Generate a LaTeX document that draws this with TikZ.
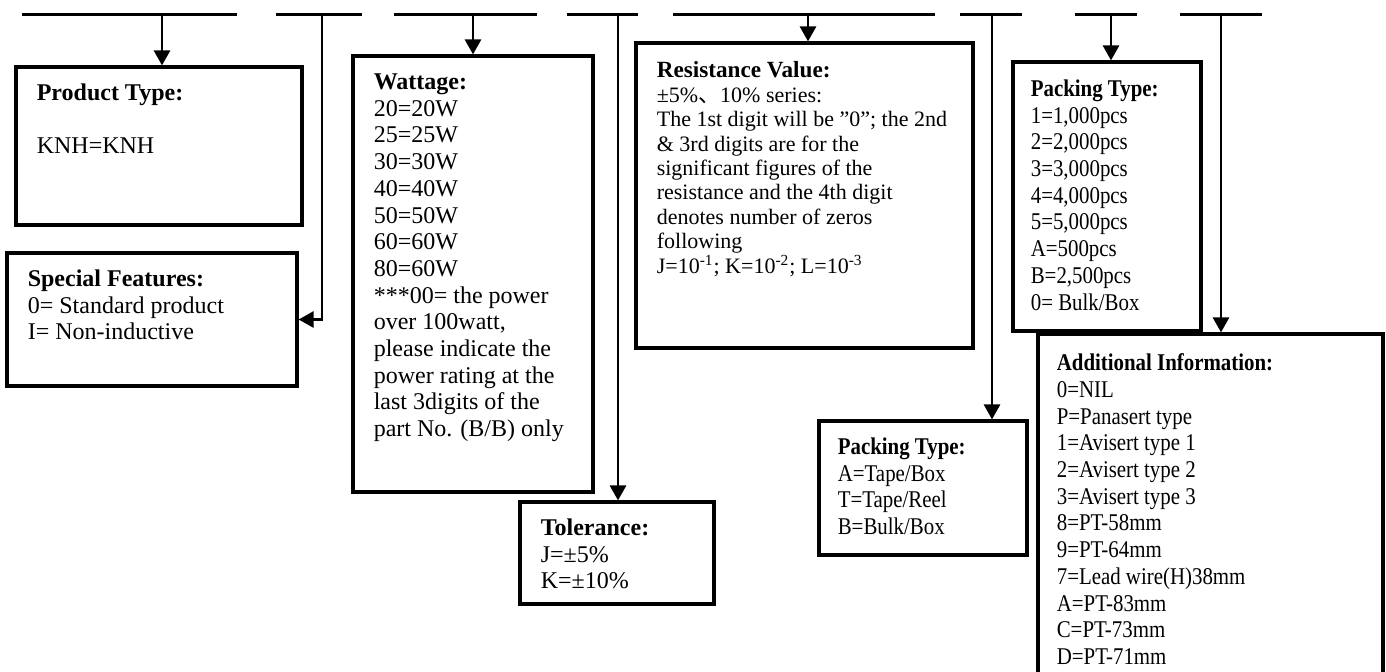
\documentclass[tikz,border=0pt]{standalone}
\usepackage{fontspec}
\setmainfont{Liberation Serif}
\newfontfamily\narrowfont[FakeStretch=0.87]{Liberation Serif}
\newfontfamily\cjk{Noto Sans CJK SC}
\usetikzlibrary{arrows.meta,fit}
\tikzset{
  box/.style={draw,line width=1.6pt,inner sep=0pt,fit={#1}},
  txt/.style={anchor=north west,inner sep=0pt,align=left,
    font=\fontsize{12}{13.35}\selectfont},
  tighttxt/.style={txt,font=\fontsize{11}{12.2}\selectfont},
  narrowtxt/.style={txt,font=\narrowfont\fontsize{12}{13.35}\selectfont},
  bar/.style={line width=1.5pt},
  arr/.style={line width=1.4pt,-{Triangle[width=8pt,length=7.5pt]}},
}
\begin{document}
\begin{tikzpicture}[x=0.5pt,y=-0.5pt]
  \useasboundingbox (0,0) rectangle (1386,671);
  \clip (0,0) rectangle (1386,671);
  \foreach \a/\b in {22/237,276/362,394/537,567/638,673/935,960/1022,1075/1137,1180/1262}
    \draw[bar] (\a,14) -- (\b,14);
  \coordinate (t1) at (162,14);
  \coordinate (t2) at (322,14);
  \coordinate (t3) at (473,14);
  \coordinate (t4) at (618,14);
  \coordinate (t5) at (808,14);
  \coordinate (t6) at (992,14);
  \coordinate (t7) at (1111,14);
  \coordinate (t8) at (1221,14);

  \node[box={(16,67) (302,225)}] (prod) {};
  \node[box={(7,253) (297,386)}] (spec) {};
  \node[box={(353,56) (593,492)}] (watt) {};
  \node[box={(520,502) (714,604)}] (tol) {};
  \node[box={(636,43) (973,348)}] (res) {};
  \node[box={(1013,62) (1201,331)}] (packa) {};
  \node[box={(819,421) (1027,555)}] (packb) {};
  \node[box={(1038,334) (1383,700)}] (info) {};

  \draw[arr] (t1) -- (t1 |- prod.north);
  \draw[arr] (t2) |- (spec.east);
  \draw[arr] (t3) -- (t3 |- watt.north);
  \draw[arr] (t4) -- (t4 |- tol.north);
  \draw[arr] (t5) -- (t5 |- res.north);
  \draw[arr] (t6) -- (t6 |- packb.north);
  \draw[arr] (t7) -- (t7 |- packa.north);
  \draw[arr] (t8) -- (t8 |- info.north);

  \node[txt] (prodtxt) at ([shift={(22,18)}]prod.north west)
    {\textbf{Product Type:}\\[13.35pt] KNH=KNH};
  \node[txt] (spectxt) at ([shift={(22,18)}]spec.north west)
    {\textbf{Special Features:}\\ 0= Standard product\\ I= Non-inductive};
  \node[txt] (watttxt) at ([shift={(22,19)}]watt.north west)
    {\textbf{Wattage:}\\ 20=20W\\ 25=25W\\ 30=30W\\ 40=40W\\ 50=50W\\ 60=60W\\ 80=60W\\
     ***00= the power\\ over 100watt,\\ please indicate the\\ power rating at the\\
     last 3digits of the\\ part No. (B/B) only};
  \node[txt] (toltxt) at ([shift={(22,18)}]tol.north west)
    {\textbf{Tolerance:}\\ J=±5\%\\ K=±10\%};
  \node[tighttxt] (restxt) at ([shift={(22,20)}]res.north west)
    {{\fontsize{11.6}{12.2}\selectfont\bfseries Resistance Value:}\\ ±5\%{\cjk 、}10\% series:\\
     The 1st digit will be ”0”; the 2nd\\ \& 3rd digits are for the\\
     significant figures of the\\ resistance and the 4th digit\\
     denotes number of zeros\\ following\\
     J=10\textsuperscript{-1}; K=10\textsuperscript{-2}; L=10\textsuperscript{-3}};
  \node[narrowtxt] (packatxt) at ([shift={(19,19)}]packa.north west)
    {\textbf{Packing Type:}\\ 1=1,000pcs\\ 2=2,000pcs\\ 3=3,000pcs\\ 4=4,000pcs\\
     5=5,000pcs\\ A=500pcs\\ B=2,500pcs\\ 0= Bulk/Box};
  \node[narrowtxt] (packbtxt) at ([shift={(20,18)}]packb.north west)
    {\textbf{Packing Type:}\\ A=Tape/Box\\ T=Tape/Reel\\ B=Bulk/Box};
  \node[narrowtxt] (infotxt) at ([shift={(20,21)}]info.north west)
    {\textbf{Additional Information:}\\ 0=NIL\\ P=Panasert type\\ 1=Avisert type 1\\
     2=Avisert type 2\\ 3=Avisert type 3\\ 8=PT-58mm\\ 9=PT-64mm\\
     7=Lead wire(H)38mm\\ A=PT-83mm\\ C=PT-73mm\\ D=PT-71mm};
\end{tikzpicture}
\end{document}
